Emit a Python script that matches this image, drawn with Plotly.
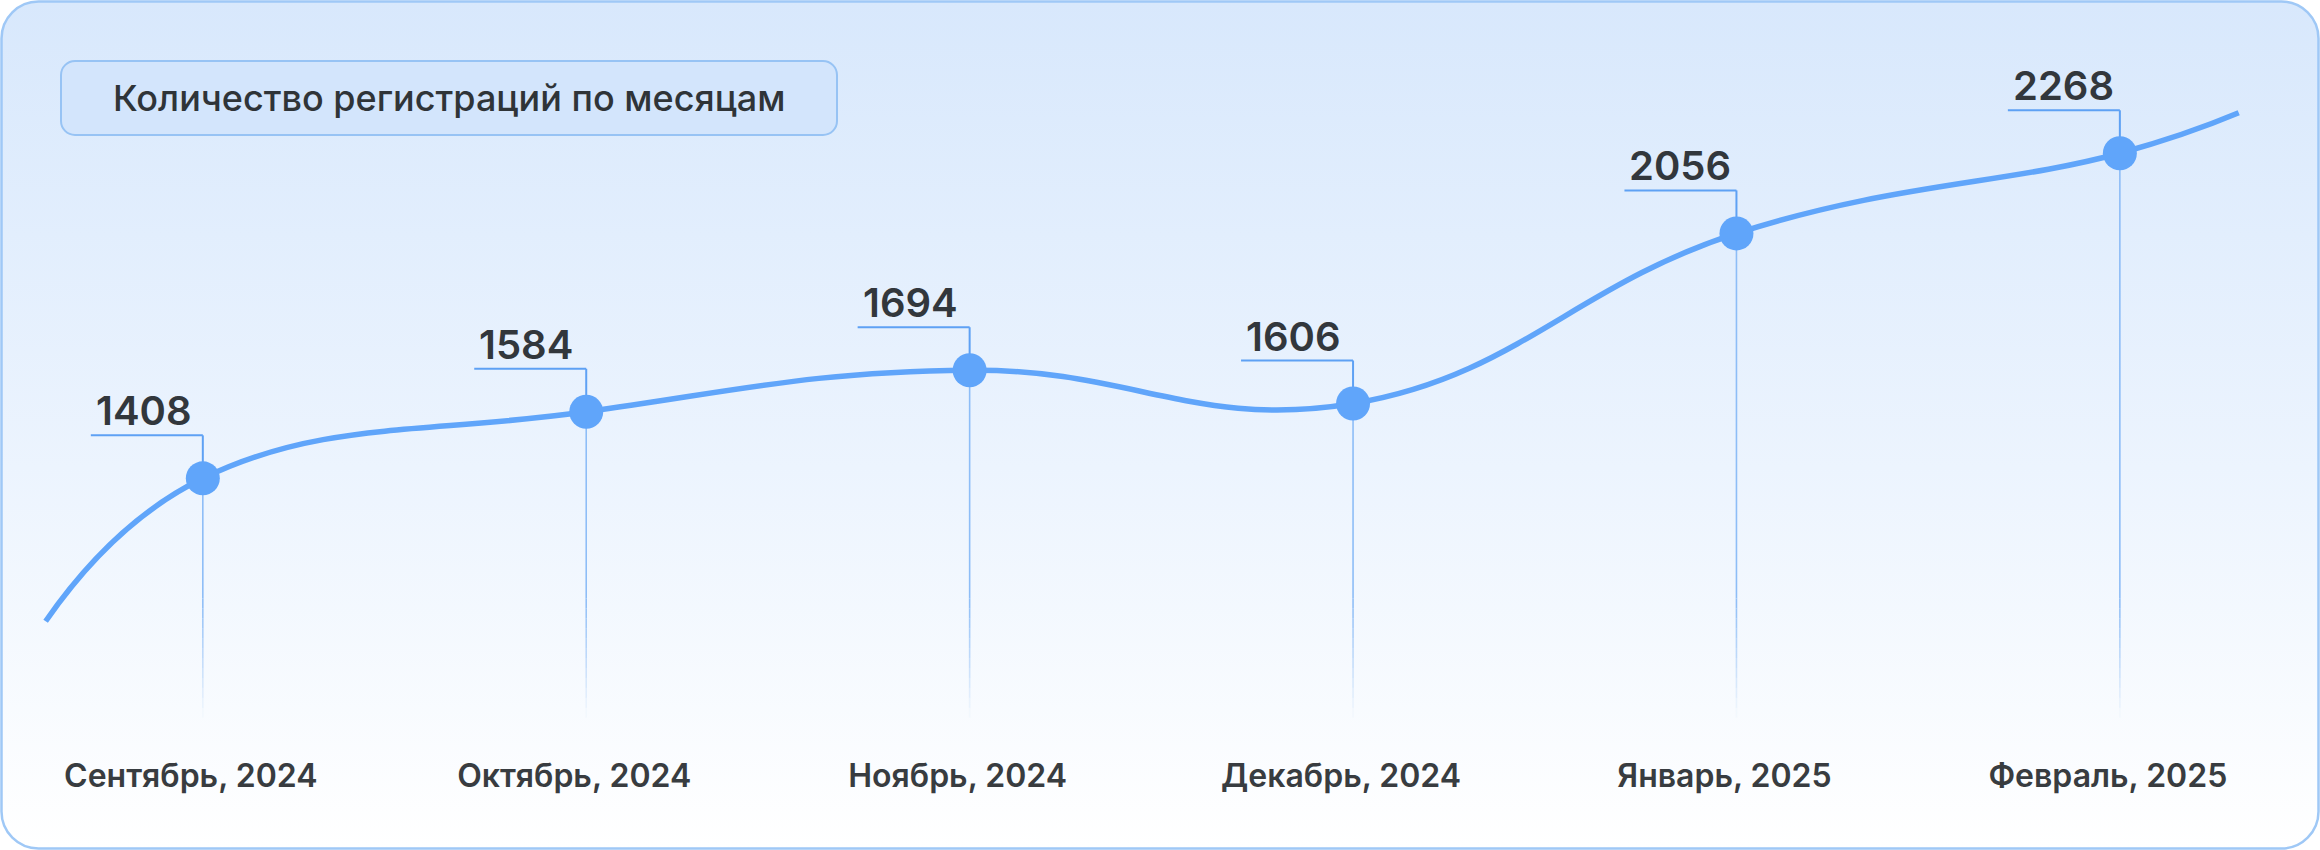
import base64
import plotly.graph_objects as go

# ---------------- data ----------------
months = ["Сентябрь, 2024", "Октябрь, 2024", "Ноябрь, 2024",
          "Декабрь, 2024", "Январь, 2025", "Февраль, 2025"]
registrations = [1408, 1584, 1694, 1606, 2056, 2268]
title_text = "Количество регистраций по месяцам"
# the drawn curve continues a little beyond the first and last month
lead_in_value = 1030
lead_out_value = 2375

# ---------------- style ----------------
W, H = 2320, 850
MARGIN_B = 98
BLUE = "#60a5fa"
LEADER = "#5ea1f4"
DROP = "#8dbdf7"
TEXT = "#32373c"
FONT = "Inter"
EDGE_BEFORE, EDGE_AFTER = 0.41, 0.31
X_RANGE = [-0.529, 5.522]
Y_RANGE = [684, 2673.5]
FADE_TOP, DROP_BOTTOM = 1090, 775

xs = list(range(len(months)))

# background card (gradient + rounded border) and title pill as an SVG image
svg = f'''<svg xmlns="http://www.w3.org/2000/svg" width="{W}" height="{H}" viewBox="0 0 {W} {H}">
<defs><linearGradient id="g" x1="0" y1="0" x2="0" y2="1">
<stop offset="0" stop-color="#d8e8fc"/><stop offset="0.55" stop-color="#ecf4fe"/>
<stop offset="1" stop-color="#ffffff"/></linearGradient></defs>
<rect x="1.5" y="1.5" width="{W-3}" height="{H-3}" rx="37" ry="37" fill="url(#g)" stroke="#9fc8f6" stroke-width="2.5"/>
<rect x="61" y="61" width="776" height="74" rx="14" ry="14" fill="#d3e5fc" stroke="#97c3f4" stroke-width="2"/>
</svg>'''
svg_uri = "data:image/svg+xml;base64," + base64.b64encode(svg.encode("utf-8")).decode()

fig = go.Figure()

line_x = [xs[0] - EDGE_BEFORE] + xs + [xs[-1] + EDGE_AFTER]
line_y = [lead_in_value] + registrations + [lead_out_value]
fig.add_trace(go.Scatter(
    x=line_x, y=line_y, mode="lines",
    line=dict(color=BLUE, width=5.5, shape="spline", smoothing=1.25),
    hoverinfo="skip", showlegend=False))
fig.add_trace(go.Scatter(
    x=xs, y=registrations, mode="markers",
    marker=dict(color=BLUE, size=34, line=dict(width=0)),
    hoverinfo="skip", showlegend=False))

shapes = []
annotations = []
n_fade = 12
for i, v in enumerate(registrations):
    # drop line to the bottom, fading out
    shapes.append(dict(type="line", layer="below", xref="x", yref="y",
                       x0=i, x1=i, y0=v, y1=FADE_TOP,
                       line=dict(color=DROP, width=1.6)))
    step = (FADE_TOP - DROP_BOTTOM) / n_fade
    for k in range(n_fade):
        shapes.append(dict(type="line", layer="below", xref="x", yref="y",
                           x0=i, x1=i, y0=FADE_TOP - k * step, y1=FADE_TOP - (k + 1) * step,
                           opacity=1 - (k + 0.5) / n_fade,
                           line=dict(color=DROP, width=1.6)))
    # leader: up from point, then left
    shapes.append(dict(type="line", layer="below", xref="x", yref="y",
                       x0=i, x1=i, ysizemode="pixel", yanchor=v, y0=0, y1=43,
                       line=dict(color=LEADER, width=2)))
    shapes.append(dict(type="line", layer="below", xref="x", yref="y",
                       xsizemode="pixel", xanchor=i, x0=-112, x1=0,
                       ysizemode="pixel", yanchor=v, y0=43, y1=43,
                       line=dict(color=LEADER, width=2)))
    annotations.append(dict(x=i, y=v, xref="x", yref="y", text=str(v),
                            showarrow=False, xanchor="left", yanchor="bottom",
                            xshift=-109, yshift=41,
                            font=dict(family=FONT, size=40, color=TEXT, weight=600)))

plot_h = H - MARGIN_B
annotations.append(dict(x=449 / W, y=1 - 98 / plot_h, xref="paper", yref="paper",
                        text=title_text, showarrow=False, xanchor="center", yanchor="middle",
                        font=dict(family=FONT, size=36, color="#2f3438", weight=500)))

fig.update_layout(
    width=W, height=H,
    margin=dict(l=0, r=0, t=0, b=MARGIN_B, pad=0),
    paper_bgcolor="#ffffff", plot_bgcolor="rgba(0,0,0,0)",
    showlegend=False,
    images=[dict(source=svg_uri, xref="paper", yref="paper", x=0, y=1,
                 sizex=1, sizey=H / plot_h, xanchor="left", yanchor="top",
                 sizing="stretch", layer="below")],
    shapes=shapes, annotations=annotations,
    xaxis=dict(range=X_RANGE, tickmode="array", tickvals=xs, ticktext=months,
               showgrid=False, zeroline=False, showline=False, ticks="",
               ticklabelshift=-12, ticklabelstandoff=2,
               tickfont=dict(family=FONT, size=32, color="#383c40", weight=600),
               fixedrange=True),
    yaxis=dict(range=Y_RANGE, visible=False, showgrid=False, zeroline=False,
               fixedrange=True),
    hovermode=False,
)

fig.write_html("out.html", config={"displayModeBar": False, "staticPlot": True},
               post_script="document.body.style.margin='0';document.body.style.overflow='hidden';")
